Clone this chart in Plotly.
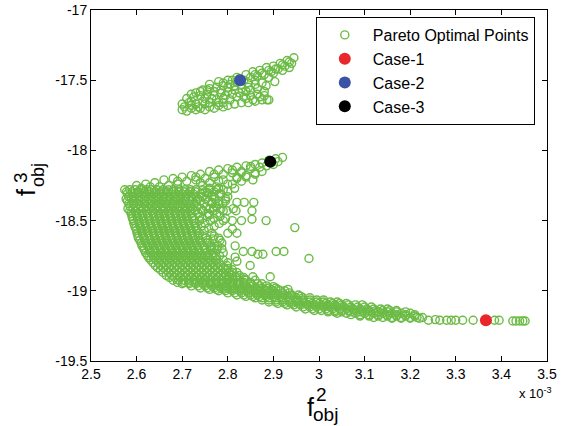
import plotly.graph_objects as go

# ---------------- data (x values in units of 1e-3) ----------------
# upper cluster of Pareto points: (f2 [x1e-3], f3)
upper_pts = [
    (2.70,-17.71),(2.71,-17.72),(2.72,-17.70),(2.73,-17.71),(2.74,-17.70),(2.75,-17.71),(2.76,-17.69),
    (2.77,-17.70),(2.78,-17.68),(2.79,-17.69),(2.80,-17.68),(2.815,-17.67),(2.83,-17.66),(2.845,-17.66),
    (2.86,-17.65),(2.875,-17.64),(2.89,-17.64),
    (2.70,-17.67),(2.715,-17.66),(2.73,-17.67),(2.745,-17.65),(2.76,-17.66),(2.775,-17.64),(2.79,-17.63),
    (2.805,-17.64),(2.82,-17.62),(2.835,-17.62),(2.85,-17.61),(2.865,-17.60),(2.88,-17.61),
    (2.71,-17.63),(2.725,-17.62),(2.74,-17.61),(2.755,-17.60),(2.77,-17.61),(2.785,-17.59),(2.80,-17.58),
    (2.815,-17.57),(2.83,-17.56),(2.845,-17.55),(2.86,-17.53),(2.875,-17.52),
    (2.73,-17.59),(2.745,-17.57),(2.76,-17.56),(2.775,-17.55),(2.79,-17.54),(2.805,-17.53),(2.82,-17.51),
    (2.835,-17.50),(2.85,-17.48),(2.865,-17.47),(2.88,-17.46),(2.895,-17.44),(2.91,-17.42),(2.925,-17.40),
    (2.94,-17.38),
    (2.76,-17.53),(2.78,-17.51),(2.80,-17.50),(2.82,-17.48),(2.84,-17.46),(2.855,-17.44),(2.87,-17.43),
    (2.885,-17.41),(2.90,-17.40),(2.915,-17.38),(2.93,-17.36),(2.945,-17.34),
    (2.86,-17.50),(2.89,-17.48),(2.90,-17.45),(2.92,-17.43),(2.935,-17.41),(2.884,-17.54),(2.903,-17.51),
    (2.886,-17.64),(2.87,-17.62),(2.855,-17.64),(2.84,-17.63),(2.72,-17.68),(2.75,-17.63),(2.79,-17.66),
    (2.705,-17.69),(2.72,-17.65),(2.735,-17.69),(2.75,-17.67),(2.765,-17.63),(2.78,-17.66),(2.795,-17.61),
    (2.81,-17.60),(2.825,-17.59),(2.84,-17.58),(2.85,-17.57),(2.865,-17.56),(2.88,-17.58),(2.77,-17.58),
    (2.785,-17.57),(2.80,-17.55),(2.815,-17.54),(2.83,-17.53),(2.845,-17.52),(2.86,-17.46),(2.875,-17.45),
    (2.89,-17.43),(2.905,-17.42),(2.92,-17.39),(2.935,-17.37),(2.72,-17.60),(2.74,-17.58),(2.755,-17.57),
    (2.79,-17.52),(2.81,-17.50),(2.825,-17.49),
]

# upper arm of the main cloud, leading to Case-3
arm_pts = [
    (2.60,-18.25),(2.62,-18.24),(2.64,-18.23),(2.66,-18.21),(2.68,-18.20),(2.70,-18.19),(2.72,-18.18),
    (2.74,-18.17),(2.76,-18.15),(2.78,-18.14),(2.80,-18.13),(2.82,-18.12),(2.84,-18.11),(2.86,-18.10),
    (2.875,-18.09),(2.89,-18.07),(2.905,-18.06),(2.92,-18.05),
    (2.65,-18.26),(2.67,-18.25),(2.69,-18.24),(2.71,-18.22),(2.73,-18.21),(2.75,-18.20),(2.77,-18.19),
    (2.79,-18.17),(2.81,-18.16),(2.83,-18.15),(2.85,-18.13),(2.87,-18.12),(2.885,-18.11),(2.90,-18.10),
    (2.91,-18.08),
    (2.76,-18.23),(2.79,-18.21),(2.82,-18.19),(2.84,-18.18),(2.86,-18.16),(2.875,-18.15),(2.80,-18.24),
    (2.78,-18.27),(2.82,-18.20),(2.84,-18.19),(2.855,-18.21),(2.83,-18.16),(2.86,-18.17),(2.81,-18.24),
    (2.83,-18.22),(2.815,-18.27),(2.80,-18.29),(2.61,-18.27),(2.63,-18.26),(2.69,-18.22),(2.73,-18.19),
    (2.77,-18.17),(2.81,-18.14),(2.85,-18.115),(2.895,-18.09),(2.74,-18.23),(2.78,-18.22),
]

# dense body of the main cloud, listed row by row
main_row_y = [-18.28, -18.295, -18.31, -18.33, -18.345, -18.36, -18.38, -18.40, -18.415, -18.43,
              -18.45, -18.47, -18.485, -18.50, -18.52, -18.54, -18.555, -18.57, -18.59, -18.61,
              -18.625, -18.64, -18.66, -18.68, -18.695, -18.71, -18.73, -18.75, -18.765, -18.78,
              -18.80, -18.82, -18.835, -18.85, -18.87, -18.89, -18.905, -18.925, -18.94]
main_row_x = [
    [2.574,2.585,2.597,2.610,2.622,2.633,2.645,2.658,2.670,2.681,2.693,2.706,2.718,2.730,2.745,2.76,2.775,2.79],
    [2.578,2.590,2.603,2.616,2.629,2.641,2.653,2.667,2.680,2.692,2.704,2.717,2.729,2.75,2.77],
    [2.580,2.591,2.603,2.616,2.628,2.639,2.651,2.664,2.676,2.687,2.699,2.712,2.724,2.741,2.758,2.781],
    [2.583,2.596,2.609,2.621,2.634,2.646,2.658,2.671,2.683,2.695,2.707,2.719,2.731,2.745,2.765],
    [2.577,2.588,2.600,2.612,2.625,2.637,2.648,2.660,2.673,2.685,2.696,2.708,2.721,2.734,2.752,2.772,2.795],
    [2.580,2.592,2.605,2.617,2.630,2.642,2.655,2.667,2.680,2.692,2.704,2.716,2.730,2.74,2.758,2.78],
    [2.583,2.594,2.606,2.618,2.631,2.643,2.654,2.666,2.679,2.691,2.702,2.714,2.727,2.748,2.766,2.789],
    [2.586,2.598,2.610,2.623,2.635,2.647,2.660,2.672,2.684,2.696,2.708,2.720,2.733,2.752,2.775],
    [2.581,2.592,2.604,2.615,2.627,2.640,2.652,2.663,2.675,2.688,2.700,2.711,2.723,2.741,2.760,2.785,2.812],
    [2.585,2.597,2.609,2.621,2.633,2.645,2.657,2.669,2.681,2.693,2.705,2.717,2.729,2.745,2.768,2.79],
    [2.588,2.599,2.611,2.623,2.636,2.648,2.659,2.671,2.684,2.696,2.707,2.719,2.735,2.757,2.776],
    [2.590,2.602,2.614,2.626,2.638,2.650,2.662,2.674,2.686,2.698,2.710,2.722,2.738,2.755,2.783],
    [2.591,2.602,2.614,2.627,2.639,2.650,2.662,2.675,2.687,2.698,2.710,2.722,2.744,2.770,2.795],
    [2.593,2.605,2.617,2.629,2.641,2.653,2.665,2.677,2.689,2.701,2.713,2.725,2.738,2.762],
    [2.594,2.606,2.618,2.630,2.642,2.654,2.666,2.678,2.690,2.702,2.714,2.727,2.750,2.781],
    [2.596,2.608,2.620,2.632,2.644,2.656,2.668,2.680,2.692,2.704,2.716,2.728,2.742,2.77],
    [2.598,2.609,2.621,2.633,2.646,2.658,2.669,2.681,2.694,2.706,2.718,2.731,2.758],
    [2.600,2.612,2.624,2.636,2.648,2.660,2.672,2.684,2.696,2.708,2.720,2.732,2.748],
    [2.601,2.612,2.624,2.637,2.649,2.661,2.672,2.685,2.697,2.709,2.721,2.738,2.765],
    [2.603,2.615,2.627,2.639,2.651,2.663,2.675,2.687,2.699,2.711,2.723,2.735,2.745,2.770],
    [2.604,2.616,2.628,2.640,2.652,2.664,2.676,2.688,2.700,2.712,2.724,2.736,2.752,2.780],
    [2.607,2.619,2.631,2.643,2.655,2.667,2.679,2.691,2.703,2.715,2.727,2.739,2.755],
    [2.610,2.621,2.633,2.645,2.657,2.669,2.681,2.693,2.705,2.717,2.729,2.742,2.760,2.787],
    [2.612,2.624,2.636,2.648,2.660,2.672,2.684,2.696,2.708,2.720,2.732,2.745,2.763,2.778],
    [2.615,2.627,2.639,2.651,2.663,2.675,2.687,2.699,2.711,2.723,2.735,2.748,2.770],
    [2.617,2.629,2.641,2.653,2.665,2.677,2.689,2.701,2.713,2.725,2.737,2.750,2.762],
    [2.620,2.632,2.644,2.656,2.668,2.680,2.692,2.704,2.716,2.728,2.740,2.753,2.767,2.790],
    [2.624,2.636,2.648,2.660,2.672,2.684,2.696,2.708,2.720,2.732,2.744,2.756,2.768,2.782],
    [2.627,2.639,2.651,2.663,2.675,2.687,2.699,2.711,2.723,2.735,2.747,2.759,2.772],
    [2.631,2.643,2.655,2.667,2.679,2.691,2.703,2.715,2.727,2.739,2.751,2.763,2.776,2.79],
    [2.636,2.648,2.660,2.672,2.684,2.696,2.708,2.720,2.732,2.744,2.756,2.768,2.781,2.800],
    [2.641,2.653,2.665,2.677,2.689,2.701,2.713,2.725,2.737,2.749,2.761,2.773,2.785,2.798],
    [2.646,2.658,2.670,2.682,2.694,2.706,2.718,2.730,2.742,2.754,2.766,2.778,2.790],
    [2.652,2.664,2.676,2.688,2.700,2.712,2.724,2.736,2.748,2.760,2.772,2.784,2.797,2.81],
    [2.658,2.670,2.682,2.694,2.706,2.718,2.730,2.742,2.754,2.766,2.778,2.790,2.803,2.820],
    [2.665,2.677,2.689,2.701,2.713,2.725,2.737,2.749,2.761,2.773,2.785,2.797,2.81,2.825],
    [2.672,2.684,2.696,2.708,2.720,2.732,2.744,2.756,2.768,2.780,2.792,2.804,2.817,2.835],
    [2.680,2.692,2.704,2.716,2.728,2.740,2.752,2.764,2.776,2.788,2.800,2.812,2.825,2.84,2.86],
    [2.690,2.702,2.714,2.726,2.738,2.750,2.762,2.774,2.786,2.798,2.810,2.822,2.835,2.850],
]

# lower band of the main cloud, row by row
band_row_y = [-18.95, -18.965, -18.98, -18.99, -19.00, -19.015, -19.03, -19.04, -19.05, -19.065,
              -19.08, -19.09, -19.10, -19.115, -19.13, -19.14, -19.15, -19.16, -19.17, -19.18,
              -19.19, -19.195]
band_row_x = [
    [2.70,2.715,2.73,2.745,2.76,2.775,2.79,2.805,2.82,2.835,2.85,2.865],
    [2.72,2.735,2.75,2.765,2.78,2.795,2.81,2.825,2.84,2.855,2.87,2.885],
    [2.74,2.755,2.77,2.785,2.80,2.815,2.83,2.845,2.86,2.875,2.89,2.905],
    [2.76,2.775,2.79,2.805,2.82,2.835,2.85,2.865,2.88,2.895,2.91],
    [2.78,2.795,2.81,2.825,2.84,2.855,2.87,2.885,2.90,2.915,2.925],
    [2.80,2.815,2.83,2.845,2.86,2.875,2.89,2.905,2.92,2.935],
    [2.82,2.835,2.85,2.865,2.88,2.895,2.91,2.925,2.94,2.955],
    [2.84,2.855,2.87,2.885,2.90,2.915,2.93,2.945,2.96],
    [2.86,2.875,2.89,2.905,2.92,2.935,2.95,2.965,2.98],
    [2.875,2.89,2.905,2.92,2.935,2.95,2.965,2.98,2.995,3.01],
    [2.89,2.905,2.92,2.935,2.95,2.965,2.98,2.995,3.01,3.025,3.04],
    [2.91,2.925,2.94,2.955,2.97,2.985,3.00,3.015,3.03,3.045,3.06],
    [2.93,2.945,2.96,2.975,2.99,3.005,3.02,3.035,3.05,3.065,3.08,3.095],
    [2.95,2.965,2.98,2.995,3.01,3.025,3.04,3.055,3.07,3.085,3.10,3.115],
    [2.97,2.985,3.00,3.015,3.03,3.045,3.06,3.075,3.09,3.105,3.12,3.135,3.15],
    [2.99,3.005,3.02,3.035,3.05,3.065,3.08,3.095,3.11,3.125,3.14,3.155,3.17],
    [3.02,3.035,3.05,3.07,3.09,3.11,3.13,3.15,3.17,3.19],
    [3.04,3.06,3.08,3.10,3.12,3.14,3.16,3.18,3.20],
    [3.07,3.09,3.11,3.13,3.15,3.17,3.19,3.21],
    [3.09,3.11,3.13,3.15,3.17,3.19,3.21],
    [3.12,3.14,3.16,3.18,3.20,3.215],
    [3.16,3.18,3.20,3.22],
]

# scattered points and the tail of the front
scatter_pts = [
    (2.82,-18.37),(2.836,-18.37),(2.857,-18.37),(2.798,-18.43),(2.818,-18.43),(2.853,-18.43),
    (2.79,-18.50),(2.81,-18.50),(2.83,-18.50),(2.853,-18.49),(2.81,-18.56),(2.80,-18.59),(2.82,-18.59),
    (2.768,-18.63),(2.783,-18.64),(2.754,-18.66),(2.816,-18.68),(2.834,-18.72),(2.816,-18.76),
    (2.765,-18.69),(2.787,-18.70),(2.776,-18.71),(2.849,-18.82),(2.855,-18.90),(2.836,-18.92),
    (2.82,-18.90),(2.893,-18.90),(2.875,-18.95),(2.90,-18.97),(2.932,-18.99),(2.954,-19.07),
    (2.877,-18.74),(2.866,-18.74),(2.853,-18.72),(2.906,-18.72),(2.923,-18.72),(2.884,-18.50),
    (2.947,-18.55),(2.978,-18.77),(2.745,-18.25),(2.76,-18.27),(2.775,-18.26),(2.755,-18.30),
    (2.77,-18.33),(2.785,-18.31),(2.80,-18.33),(2.765,-18.37),(2.78,-18.38),(2.795,-18.36),
    (2.77,-18.41),(2.745,-18.43),(2.76,-18.46),(2.82,-18.79),(2.80,-18.84),(2.81,-18.87),
    (3.017,-19.11),(3.13,-19.15),(3.227,-19.19),(3.24,-19.21),(3.255,-19.205),(3.265,-19.21),
    (3.28,-19.21),(3.29,-19.21),(3.30,-19.21),(3.315,-19.21),(3.338,-19.21),(3.385,-19.21),
    (3.395,-19.21),(3.425,-19.215),(3.432,-19.215),(3.44,-19.215),(3.447,-19.215),(3.452,-19.215),
]

case1 = (3.366, -19.21)
case2 = (2.827, -17.50)
case3 = (2.893, -18.08)

x_ticks = [2.5, 2.6, 2.7, 2.8, 2.9, 3.0, 3.1, 3.2, 3.3, 3.4, 3.5]
x_tick_text = ["2.5", "2.6", "2.7", "2.8", "2.9", "3", "3.1", "3.2", "3.3", "3.4", "3.5"]
y_ticks = [-19.5, -19, -18.5, -18, -17.5, -17]
y_tick_text = ["-19.5", "-19", "-18.5", "-18", "-17.5", "-17"]

# ---------------- assemble ----------------
pareto_x, pareto_y = [], []
for (px, py) in upper_pts + arm_pts + scatter_pts:
    pareto_x.append(px); pareto_y.append(py)
for ry, xs in zip(main_row_y + band_row_y, main_row_x + band_row_x):
    for px in xs:
        pareto_x.append(px); pareto_y.append(ry)

GREEN = "#6BBB45"
FONT = "Liberation Sans, Arial, sans-serif"

fig = go.Figure()
fig.add_trace(go.Scatter(
    x=pareto_x, y=pareto_y, mode="markers", name="Pareto Optimal Points",
    marker=dict(symbol="circle-open", size=8, color=GREEN, line=dict(width=1.4, color=GREEN)),
))
for name, pt, col in [("Case-1", case1, "#E8262B"), ("Case-2", case2, "#3A53A4"), ("Case-3", case3, "#000000")]:
    fig.add_trace(go.Scatter(
        x=[pt[0]], y=[pt[1]], mode="markers", name=name,
        marker=dict(symbol="circle", size=12, color=col),
    ))

axis_common = dict(showline=True, linecolor="black", linewidth=1, mirror="allticks",
                   ticks="inside", ticklen=5, tickcolor="black", showgrid=False, zeroline=False,
                   automargin=False,
                   tickfont=dict(family=FONT, size=14, color="black"))
fig.update_xaxes(range=[2.5, 3.5], tickvals=x_ticks, ticktext=x_tick_text, **axis_common)
fig.update_yaxes(range=[-19.5, -17], tickvals=y_ticks, ticktext=y_tick_text, **axis_common)

fig.update_layout(
    width=564, height=426,
    margin=dict(l=91, r=17, t=10, b=65),
    paper_bgcolor="white", plot_bgcolor="white",
    font=dict(family=FONT, color="black"),
    showlegend=True,
    legend=dict(x=0.493, y=0.98, xanchor="left", yanchor="top",
                bordercolor="black", borderwidth=1, bgcolor="white",
                font=dict(family=FONT, size=16, color="black"),
                itemsizing="trace", itemwidth=46, tracegroupgap=0),
)

# axis titles (f with stacked super/subscripts) and exponent label
ann = [
    dict(text="f", x=310, y=407, size=25, angle=0),
    dict(text="2", x=321, y=394, size=19, angle=0),
    dict(text="obj", x=325, y=414, size=19, angle=0),
    dict(text="f", x=26, y=193, size=25, angle=-90),
    dict(text="3", x=20, y=178, size=19, angle=-90),
    dict(text="obj", x=38, y=175, size=18, angle=-90),
]
for a in ann:
    fig.add_annotation(text=a["text"], xref="paper", yref="paper",
                       x=(a["x"] - 91) / 456, y=(361 - a["y"]) / 351,
                       xanchor="center", yanchor="middle", showarrow=False,
                       textangle=a["angle"], font=dict(family=FONT, size=a["size"], color="black"))
fig.add_annotation(text="x 10<sup>-3</sup>", xref="paper", yref="paper",
                   x=(535 - 91) / 456, y=(361 - 393) / 351, xanchor="center", yanchor="middle",
                   showarrow=False, font=dict(family=FONT, size=13, color="black"))

fig.write_html("out.html")
